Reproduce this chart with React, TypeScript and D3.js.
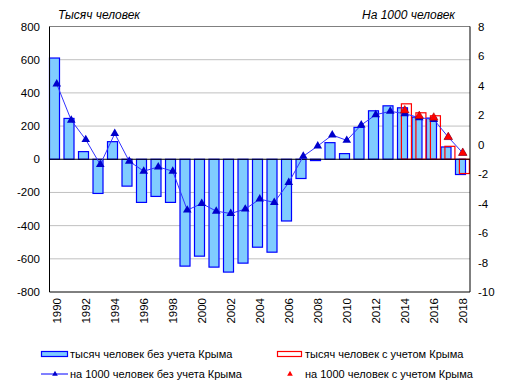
import React from "react";
import * as d3 from "d3";

const years = d3.range(1990, 2019).map(String);
// тысяч человек без учета Крыма
const growthK = [610, 246, 46, -206, 106, -162, -260, -224, -260, -644, -584, -650, -680, -626, -530, -560, -372, -116, -8, 100, 34, 192, 292, 322, 310, 254, 248, 74, -92];
// тысяч человек с учетом Крыма
const crimeaYears = ["2014", "2015", "2016", "2017", "2018"];
const growthKCrimea = [334, 280, 262, 78, -86];
// на 1000 человек без учета Крыма
const per1000 = [4.1, 1.64, 0.33, -1.36, 0.74, -1.14, -1.81, -1.52, -1.81, -4.45, -4.0, -4.52, -4.68, -4.38, -3.7, -3.93, -2.58, -0.8, -0.1, 0.64, 0.28, 1.32, 2.02, 2.25, 2.09, 1.82, 1.7, 0.5, -0.57];
// на 1000 человек с учетом Крыма
const per1000Crimea = [2.31, 1.93, 1.82, 0.5, -0.57];

const leftTicks = [800, 600, 400, 200, 0, -200, -400, -600, -800];
const rightTicks = [8, 6, 4, 2, 0, -2, -4, -6, -8, -10];
const labelYears = years.filter((d, i) => i % 2 === 0);

const W = 517;
const H = 391;
const margin = { top: 26.5, right: 47, bottom: 99, left: 49.5 };
const FONT = "'Liberation Sans', Arial, sans-serif";

export default function App() {
  const x = d3.scaleBand().domain(years).range([margin.left, W - margin.right]);
  const yL = d3.scaleLinear().domain([-800, 800]).range([H - margin.bottom, margin.top]);
  const yR = d3.scaleLinear().domain([-10, 8]).range([H - margin.bottom, margin.top]);
  const bw = x.bandwidth() * 0.69;
  const off = x.bandwidth() * 0.27;
  const tri = d3.symbol(d3.symbolTriangle, 32)();
  const line = d3.line<number>()
    .x((d, i) => x(years[i])! + x.bandwidth() / 2)
    .y((d) => yR(d));

  const x0 = margin.left;
  const x1 = W - margin.right;
  const y0 = margin.top;
  const y1 = H - margin.bottom;

  return (
    <svg width={W} height={H} style={{ position: "absolute", left: 0, top: 0 }} fontFamily={FONT}>
      <rect width={W} height={H} fill="#fff" />
      {leftTicks.filter((t) => t !== 0 && Math.abs(t) !== 800).map((t) => (
        <line key={t} x1={x0} x2={x1} y1={yL(t)} y2={yL(t)} stroke="#c0c0c0" />
      ))}
      <line x1={x0} x2={x1} y1={y0} y2={y0} stroke="#808080" />
      {growthK.map((v, i) => (
        <rect key={i} x={x(years[i])!} y={Math.min(yL(v), yL(0))} width={bw}
          height={Math.abs(yL(v) - yL(0))} fill="#80ccff" stroke="#0000ff" strokeWidth={1.2} />
      ))}
      {growthKCrimea.map((v, i) => (
        <rect key={i} x={x(crimeaYears[i])! + off} y={Math.min(yL(v), yL(0))} width={bw}
          height={Math.abs(yL(v) - yL(0))} fill="none" stroke="#ff0000" strokeWidth={1.2} />
      ))}
      <line x1={x0} x2={x1} y1={yL(0)} y2={yL(0)} stroke="#000" />
      <line x1={x0} x2={x0} y1={y0} y2={y1} stroke="#000" />
      <line x1={x1} x2={x1} y1={y0} y2={y1} stroke="#000" />
      <line x1={x0} x2={x1} y1={y1} y2={y1} stroke="#000" />
      <path d={line(per1000) || ""} fill="none" stroke="#3333ff" strokeWidth={1} />
      {per1000.map((v, i) => (
        <path key={i} d={tri} transform={`translate(${x(years[i])! + x.bandwidth() / 2},${yR(v)})`} fill="#0000cc" />
      ))}
      {per1000Crimea.map((v, i) => (
        <path key={i} d={tri} transform={`translate(${x(crimeaYears[i])! + x.bandwidth() / 2},${yR(v)})`} fill="#ff0000" stroke="#990000" strokeWidth={0.5} />
      ))}
      {leftTicks.map((t) => (
        <text key={t} x={40} y={yL(t)} dy="0.35em" textAnchor="end" fontSize={11.5}>{t}</text>
      ))}
      {rightTicks.map((t) => (
        <text key={t} x={478} y={yR(t)} dy="0.35em" textAnchor="start" fontSize={11.5}>{t}</text>
      ))}
      {labelYears.map((d) => (
        <text key={d} transform={`translate(${x(d)! + x.bandwidth() / 2 + 4},${y1 + 6}) rotate(-90)`}
          textAnchor="end" fontSize={11.5}>{d}</text>
      ))}
      <text x={58} y={19} fontSize={12} fontStyle="italic">Тысяч человек</text>
      <text x={455} y={19} fontSize={12} fontStyle="italic" textAnchor="end">На 1000 человек</text>
      <g fontSize={11}>
        <rect x={41.5} y={351.5} width={26} height={5} fill="#80ccff" stroke="#0000ff" strokeWidth={1.2} />
        <text x={70} y={358}>тысяч человек без учета Крыма</text>
        <rect x={277.5} y={351.5} width={24} height={5} fill="none" stroke="#ff0000" strokeWidth={1.2} />
        <text x={305} y={358}>тысяч человек с учетом Крыма</text>
        <line x1={41} x2={68} y1={374} y2={374} stroke="#0000ff" />
        <path d={d3.symbol(d3.symbolTriangle, 14)()!} transform="translate(55,374)" fill="#0000cc" />
        <text x={70} y={378}>на 1000 человек без учета Крыма</text>
        <path d={d3.symbol(d3.symbolTriangle, 14)()!} transform="translate(290,374)" fill="#ff0000" />
        <text x={305} y={378}>на 1000 человек с учетом Крыма</text>
      </g>
    </svg>
  );
}
